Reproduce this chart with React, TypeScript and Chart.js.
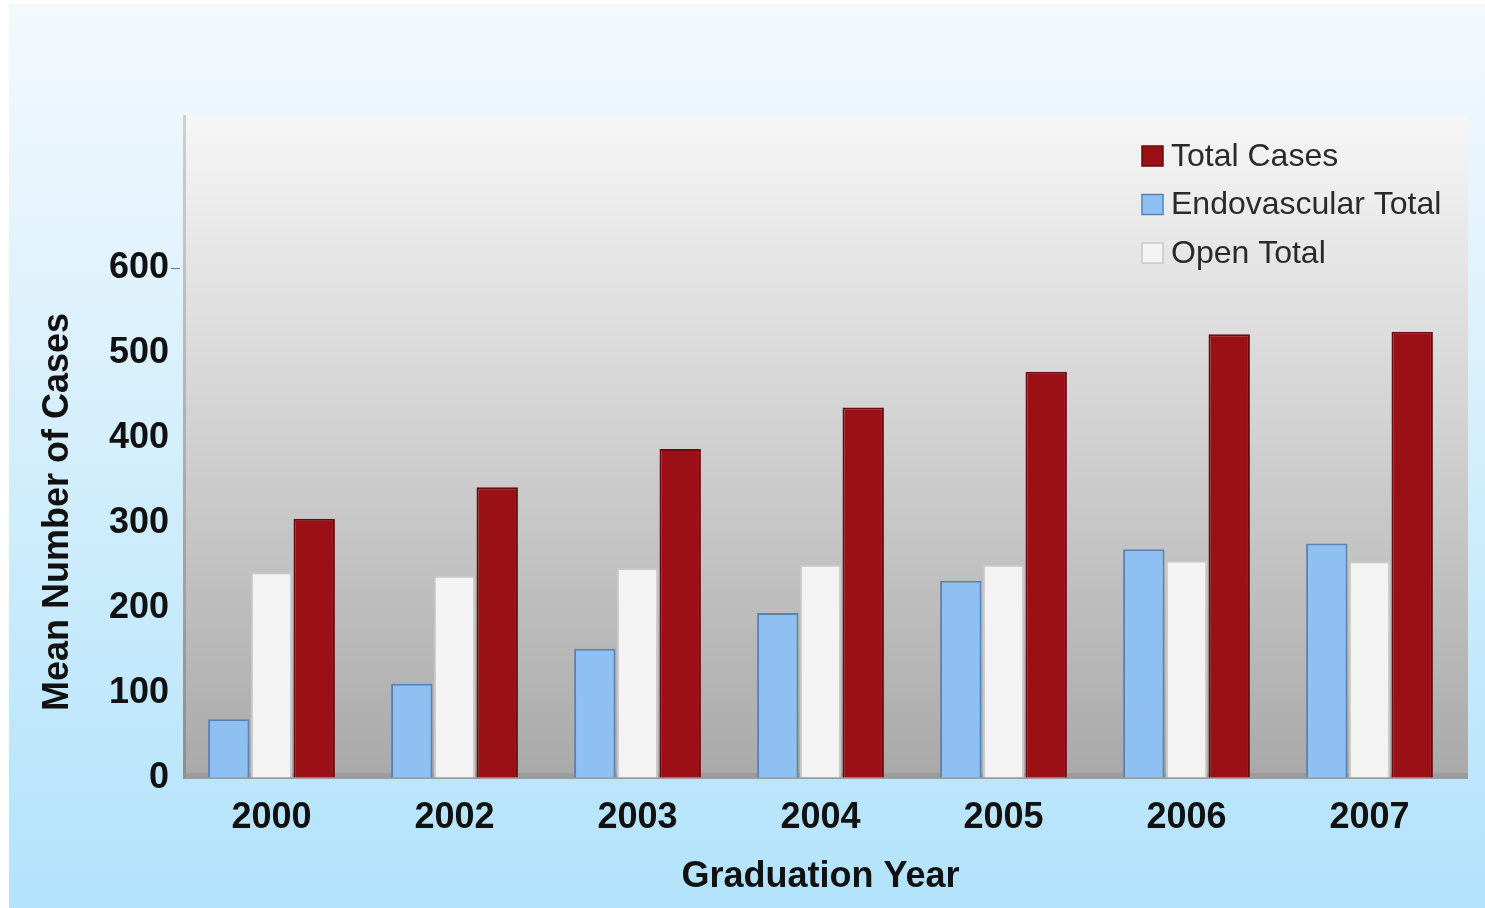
import { useEffect, useRef } from "react";
import { Chart, registerables } from "chart.js";

Chart.register(...registerables);

const years = ["2000", "2002", "2003", "2004", "2005", "2006", "2007"];
const endovascularTotal = [69, 111, 152, 194, 232, 269, 276];
const openTotal = [242, 238, 247, 251, 251, 256, 255];
const totalCases = [305, 342, 387, 436, 478, 522, 525];
const yTicks = [0, 100, 200, 300, 400, 500, 600];
const seriesNames = ["Endovascular Total", "Open Total", "Total Cases"];
const legendOrder = ["Total Cases", "Endovascular Total", "Open Total"];
const yAxisTitle = "Mean Number of Cases";
const xAxisTitle = "Graduation Year";

const FONT = "'Liberation Sans', Arial, sans-serif";

export default function App() {
  const ref = useRef<HTMLCanvasElement>(null);

  useEffect(() => {
    document.body.style.margin = "0";
    const canvas = ref.current!;

    const fills = ["#8ec0f2", "#f3f3f3", "#9b0f17"];
    const borders = ["#5a82b4", "#c8c8c8", "#6b0a0e"];

    const bgPlugin = {
      id: "bgPlugin",
      beforeDraw(chart: any) {
        const { ctx, width, height, chartArea: ca } = chart;
        const left = 183;
        const right = 1468;
        ctx.save();
        ctx.fillStyle = "#ffffff";
        ctx.fillRect(0, 0, width, height);
        const g = ctx.createLinearGradient(0, 4, 0, height);
        g.addColorStop(0, "#f4f9fd");
        g.addColorStop(1, "#b2e3fb");
        ctx.fillStyle = g;
        ctx.fillRect(9, 4, width - 9, height - 4);
        const pg = ctx.createLinearGradient(0, ca.top, 0, ca.bottom);
        pg.addColorStop(0, "#f6f6f6");
        pg.addColorStop(1, "#a9a9a9");
        ctx.fillStyle = pg;
        ctx.fillRect(left, ca.top, right - left, ca.bottom - ca.top);
        ctx.fillStyle = "#9c9c9c";
        ctx.fillRect(left, ca.bottom - 5, right - left, 6);
        const wg = ctx.createLinearGradient(0, ca.top, 0, ca.bottom);
        wg.addColorStop(0, "#d0d0d0");
        wg.addColorStop(1, "#8e8e8e");
        ctx.fillStyle = wg;
        ctx.fillRect(left, ca.top, 3, ca.bottom - ca.top);
        ctx.restore();
      },
    };

    const overlayPlugin = {
      id: "overlayPlugin",
      afterDraw(chart: any) {
        const { ctx } = chart;
        ctx.save();
        ctx.translate(58, 512);
        ctx.rotate(-Math.PI / 2);
        ctx.font = `bold 36px ${FONT}`;
        ctx.fillStyle = "#111111";
        ctx.textAlign = "center";
        ctx.textBaseline = "middle";
        ctx.fillText(yAxisTitle, 0, 0);
        ctx.restore();

        ctx.save();
        ctx.font = `32px ${FONT}`;
        ctx.textBaseline = "middle";
        ctx.textAlign = "left";
        legendOrder.forEach((name, i) => {
          const idx = seriesNames.indexOf(name);
          const cy = 156 + i * 48.5;
          const x = 1142;
          ctx.fillStyle = fills[idx];
          ctx.fillRect(x, cy - 10, 21, 20);
          ctx.strokeStyle = borders[idx];
          ctx.lineWidth = 1.5;
          ctx.strokeRect(x, cy - 10, 21, 20);
          ctx.fillStyle = "#2a2a2a";
          ctx.fillText(name, 1171, cy + 1);
        });
        ctx.restore();
      },
    };

    const chart = new Chart(canvas, {
      type: "bar",
      data: {
        labels: years,
        datasets: [
          { label: seriesNames[0], data: endovascularTotal, backgroundColor: fills[0], borderColor: borders[0], borderWidth: 2 },
          { label: seriesNames[1], data: openTotal, backgroundColor: fills[1], borderColor: borders[1], borderWidth: 2 },
          { label: seriesNames[2], data: totalCases, backgroundColor: fills[2], borderColor: borders[2], borderWidth: 2 },
        ],
      },
      options: {
        responsive: false,
        animation: false,
        layout: { padding: { top: 115, right: 24, left: 0, bottom: 0 } },
        datasets: { bar: { categoryPercentage: 0.7, barPercentage: 0.97 } },
        plugins: { legend: { display: false }, tooltip: { enabled: false } },
        scales: {
          x: {
            grid: { display: false, drawTicks: false },
            border: { display: false },
            ticks: { font: { family: FONT, size: 36, weight: "bold" }, color: "#111111", padding: 18 },
            title: {
              display: true,
              text: xAxisTitle,
              font: { family: FONT, size: 36, weight: "bold" },
              color: "#111111",
              padding: { top: 0, bottom: 9 },
            },
            afterFit: (s: any) => {
              s.height = 130;
            },
          },
          y: {
            min: 0,
            max: 780,
            afterBuildTicks: (s: any) => {
              s.ticks = yTicks.map((v) => ({ value: v }));
            },
            grid: {
              drawOnChartArea: false,
              tickLength: 9,
              color: (c: any) => (c.tick && c.tick.value === 600 ? "#777777" : "rgba(0,0,0,0)"),
            },
            border: { display: false },
            ticks: { font: { family: FONT, size: 36, weight: "bold" }, color: "#111111", padding: 2 },
            afterFit: (s: any) => {
              s.width = 180;
            },
          },
        },
      },
      plugins: [bgPlugin, overlayPlugin],
    } as any);

    return () => chart.destroy();
  }, []);

  return <canvas ref={ref} width={1485} height={908} style={{ display: "block", width: 1485, height: 908 }} />;
}
